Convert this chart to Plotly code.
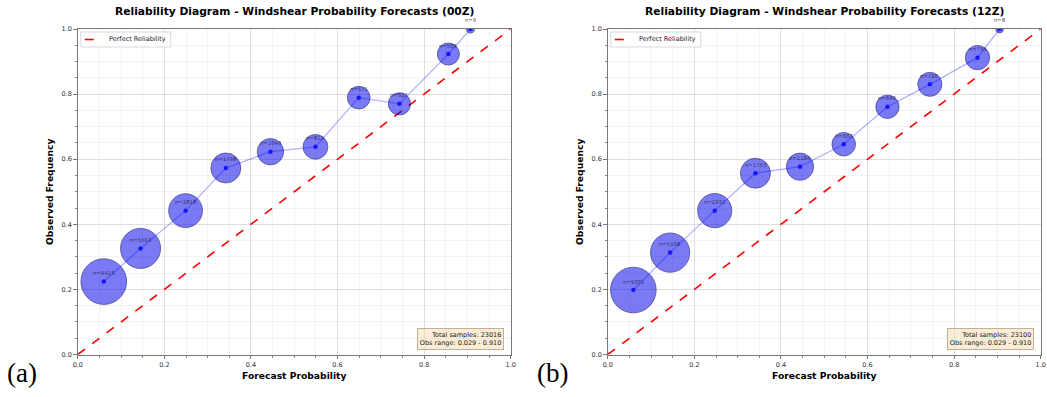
import plotly.graph_objects as go
import numpy as np

# ---- data ----
fp_00 = [0.060, 0.145, 0.249, 0.342, 0.445, 0.549, 0.649, 0.743, 0.856, 0.907]
of_00 = [0.224, 0.326, 0.442, 0.573, 0.623, 0.638, 0.789, 0.770, 0.923, 1.000]
n_00 = [9423, 5563, 2818, 1738, 1049, 812, 571, 527, 506, 9]

fp_12 = [0.059, 0.144, 0.247, 0.341, 0.444, 0.545, 0.646, 0.744, 0.854, 0.905]
of_12 = [0.198, 0.313, 0.442, 0.557, 0.577, 0.646, 0.761, 0.830, 0.912, 1.000]
n_12 = [9331, 5108, 2932, 1753, 1184, 663, 640, 726, 755, 8]

obs_range = "0.029 - 0.910"
titles = ["Reliability Diagram - Windshear Probability Forecasts (00Z)",
          "Reliability Diagram - Windshear Probability Forecasts (12Z)"]
panel_labels = ["(a)", "(b)"]
legend_label = "Perfect Reliability"
tick_vals = [0.0, 0.2, 0.4, 0.6, 0.8, 1.0]
tick_text = ["0.0", "0.2", "0.4", "0.6", "0.8", "1.0"]

W, H = 1047, 397
xdoms = [[77.8 / W, 510.7 / W], [607.8 / W, 1040.7 / W]]
ydom = [1 - 354.5 / H, 1 - 29 / H]

fig = go.Figure()
panels = [(fp_00, of_00, n_00), (fp_12, of_12, n_12)]
FONT = "DejaVu Sans"

for i, (fp, of, n) in enumerate(panels):
    sx = "" if i == 0 else "2"
    xa, ya = "x" + sx, "y" + sx
    # perfect reliability
    fig.add_trace(go.Scatter(x=[0, 1], y=[0, 1], mode="lines", name=legend_label,
                             line=dict(color="red", width=1.6, dash="dash"),
                             xaxis=xa, yaxis=ya, showlegend=False, hoverinfo="skip"))
    # bubbles
    fig.add_trace(go.Scatter(x=fp, y=of, mode="markers",
                             marker=dict(size=np.sqrt(n), sizemode="area", sizeref=2 / 21.5,
                                         color="rgba(0,0,235,0.74)",
                                         line=dict(color="rgba(0,0,110,0.8)", width=1)),
                             xaxis=xa, yaxis=ya, showlegend=False, cliponaxis=True))
    # connecting line + centre dots
    fig.add_trace(go.Scatter(x=fp, y=of, mode="lines+markers",
                             line=dict(color="rgba(0,0,255,0.3)", width=1.3),
                             marker=dict(size=4.5, color="rgba(0,0,255,0.8)"),
                             xaxis=xa, yaxis=ya, showlegend=False, cliponaxis=True))
    # labels above points
    for xv, yv, nv in zip(fp, of, n):
        fig.add_annotation(x=xv, y=yv, xref=xa, yref=ya, text=f"n={nv}", showarrow=False,
                           yshift=8.5, xanchor="center", yanchor="middle",
                           font=dict(family=FONT, size=5.3, color="rgba(30,30,70,0.85)"))

    dom = xdoms[i]
    # title
    fig.add_annotation(text=f"<b>{titles[i]}</b>", xref="paper", yref="paper",
                       x=(dom[0] + dom[1]) / 2, y=1 - 12 / H, xanchor="center", yanchor="middle",
                       showarrow=False, font=dict(family=FONT, size=10.7, color="black"))
    # panel label
    fig.add_annotation(text=panel_labels[i], xref="paper", yref="paper",
                       x=(5 if i == 0 else 535) / W, y=1 - 373 / H, xanchor="left", yanchor="middle",
                       showarrow=False, font=dict(family="Liberation Serif", size=27, color="black"))
    # stats box
    fig.add_annotation(text=f"Total samples: {sum(n)}<br>Obs range: {obs_range}",
                       xref=xa + " domain", yref=ya + " domain",
                       x=0.985, y=0.014, xanchor="right", yanchor="bottom", align="right",
                       showarrow=False, bgcolor="rgba(245,222,179,0.55)",
                       bordercolor="rgba(160,140,110,0.8)", borderwidth=0.8, borderpad=2,
                       font=dict(family=FONT, size=6.5, color="#222"))
    # legend box (manual, compact like matplotlib)
    fig.add_shape(type="rect", xref=xa + " domain", yref=ya + " domain",
                  x0=3 / 433, x1=93 / 433, y0=1 - 18 / 325.5, y1=1 - 3 / 325.5,
                  line=dict(color="#d0d0d0", width=0.8), fillcolor="rgba(255,255,255,0.85)")
    fig.add_shape(type="line", xref=xa + " domain", yref=ya + " domain",
                  x0=7 / 433, x1=24 / 433, y0=1 - 10.5 / 325.5, y1=1 - 10.5 / 325.5,
                  line=dict(color="red", width=1.6, dash="dash"))
    fig.add_annotation(text=legend_label, xref=xa + " domain", yref=ya + " domain",
                       x=29 / 433, y=1 - 10.5 / 325.5, xanchor="left", yanchor="middle",
                       showarrow=False, font=dict(family=FONT, size=6.5, color="#222"))

axis_common = dict(range=[0, 1], tickvals=tick_vals, ticktext=tick_text,
                   showgrid=True, gridcolor="rgba(200,200,200,0.45)", gridwidth=1,
                   zeroline=False, showline=True, mirror=True, linecolor="#777", linewidth=1.3,
                   ticks="outside", ticklen=3.5, tickcolor="#777", tickwidth=1,
                   tickfont=dict(family=FONT, size=6.5, color="#333"),
                   minor=dict(dtick=0.05, showgrid=True, gridcolor="rgba(225,225,225,0.4)",
                              ticks="outside", ticklen=2, tickcolor="#888"))

for i in range(2):
    sx = "" if i == 0 else "2"
    fig.update_layout({
        f"xaxis{sx}": dict(axis_common, domain=xdoms[i], anchor=f"y{sx}",
                           title=dict(text="<b>Forecast Probability</b>", standoff=4,
                                      font=dict(family=FONT, size=9.2, color="black"))),
        f"yaxis{sx}": dict(axis_common, domain=ydom, anchor=f"x{sx}",
                           title=dict(text="<b>Observed Frequency</b>", standoff=6,
                                      font=dict(family=FONT, size=9.2, color="black"))),
    })

fig.update_layout(
    width=W, height=H, margin=dict(l=0, r=0, t=0, b=0, autoexpand=False),
    paper_bgcolor="white", plot_bgcolor="white", showlegend=False,
)

fig.write_html("out.html", config={"displayModeBar": False},
               post_script="document.body.style.margin='0';document.body.style.overflow='hidden';")
